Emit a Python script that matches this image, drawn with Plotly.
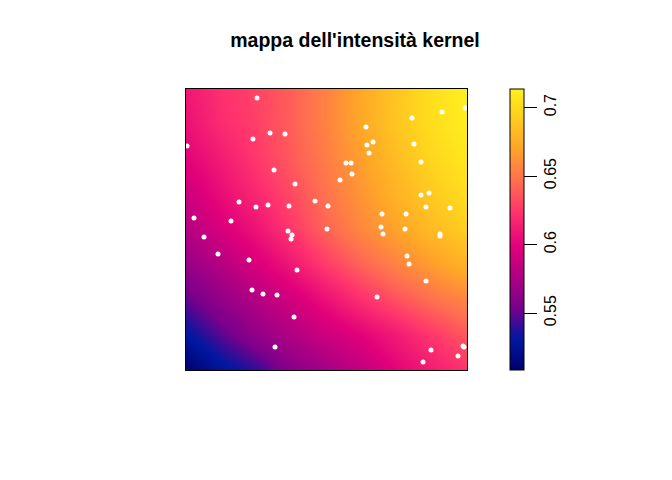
import plotly.graph_objects as go

# field grid (x, y in window units 0-281, z intensity)
grid_x = [0, 35, 70, 105, 140, 175, 210, 245, 281]
grid_y = [0, 36, 71, 106, 141, 176, 211, 246, 281]
grid_z = [
    [.509, .526, .540, .560, .572, .585, .600, .612, .623],
    [.530, .548, .565, .578, .590, .600, .612, .625, .638],
    [.550, .565, .580, .592, .607, .622, .635, .647, .657],
    [.567, .580, .595, .610, .627, .642, .655, .667, .678],
    [.580, .595, .608, .625, .642, .657, .670, .682, .693],
    [.590, .605, .618, .632, .648, .663, .678, .690, .702],
    [.600, .612, .625, .638, .652, .668, .683, .697, .708],
    [.607, .620, .628, .640, .655, .672, .688, .702, .712],
    [.610, .622, .630, .640, .655, .672, .688, .702, .713],
]
z_min = 0.5085
z_max = 0.7135

# event locations
pts_x = [71, 84, 67, 99, 1, 88, 109, 53, 70, 82, 103, 129, 142, 8, 45, 102, 141, 106,
         279, 256, 226, 180, 187, 181, 228, 183, 160, 165, 235, 166, 154, 235, 243, 240, 264,
         196, 220, 195, 219, 197, 254, 254, 18, 105, 32, 63, 111, 66, 77, 91, 108,
         89, 221, 223, 240, 191, 277, 278, 245, 272, 237]
pts_y = [272, 237, 231, 236, 224, 200, 186, 168, 163, 165, 164, 169, 164, 152, 149, 139, 141, 135,
         262, 258, 252, 243, 228, 225, 226, 217, 207, 207, 208, 196, 190, 175, 177, 163, 162,
         156, 156, 143, 141, 136, 136, 134, 133, 131, 116, 110, 100, 80, 76, 75, 53,
         23, 114, 106, 89, 73, 24, 23, 20, 14, 8]

colorbar_ticks = [0.55, 0.6, 0.65, 0.7]
colorbar_labels = ["0.55", "0.6", "0.65", "0.7"]

colorscale = [
    [0.00, "#00006e"], [0.11, "#0018a0"], [0.22, "#78008c"],
    [0.44, "#e1007a"], [0.56, "#ff326e"], [0.67, "#ff6e50"],
    [0.79, "#ffa528"], [0.91, "#ffd21e"], [1.00, "#fff01e"],
]

fig = go.Figure()
fig.add_trace(go.Heatmap(
    x=grid_x, y=grid_y, z=grid_z, zmin=z_min, zmax=z_max, zsmooth="best",
    colorscale=colorscale, hoverinfo="skip",
    colorbar=dict(
        x=509.5 / 672, xanchor="left", y=(480 - 370) / 480, yanchor="bottom",
        lenmode="pixels", len=281, thicknessmode="pixels", thickness=13.5,
        xpad=0, ypad=0, outlinecolor="black", outlinewidth=1,
        tickmode="array", tickvals=colorbar_ticks, ticktext=colorbar_labels,
        ticks="outside", ticklen=13, tickwidth=1, tickcolor="black",
        tickangle=-90, tickfont=dict(family="Liberation Sans", size=16, color="black"),
    ),
))
fig.add_trace(go.Scatter(
    x=pts_x, y=pts_y, mode="markers", cliponaxis=False, hoverinfo="skip",
    marker=dict(color="white", size=5, symbol="circle"), showlegend=False,
))
fig.update_layout(
    width=672, height=480, autosize=False, margin=dict(l=0, r=0, t=0, b=0),
    paper_bgcolor="white", plot_bgcolor="white", showlegend=False,
    xaxis=dict(domain=[186 / 672, 467 / 672], range=[0, 281], visible=True, showgrid=False,
               zeroline=False, showticklabels=False, ticks="", showline=True,
               linecolor="black", linewidth=1, mirror=True),
    yaxis=dict(domain=[110 / 480, 391 / 480], range=[0, 281], visible=True, showgrid=False,
               zeroline=False, showticklabels=False, ticks="", showline=True,
               linecolor="black", linewidth=1, mirror=True),
    title=dict(text="<b>mappa dell'intensità kernel</b>", x=355 / 672, xanchor="center",
               y=1 - 40 / 480, yanchor="middle",
               font=dict(family="Liberation Sans", size=19.5, color="black")),
)
fig.write_html("out.html", config={"displayModeBar": False},
               post_script="document.body.style.margin='0';")
